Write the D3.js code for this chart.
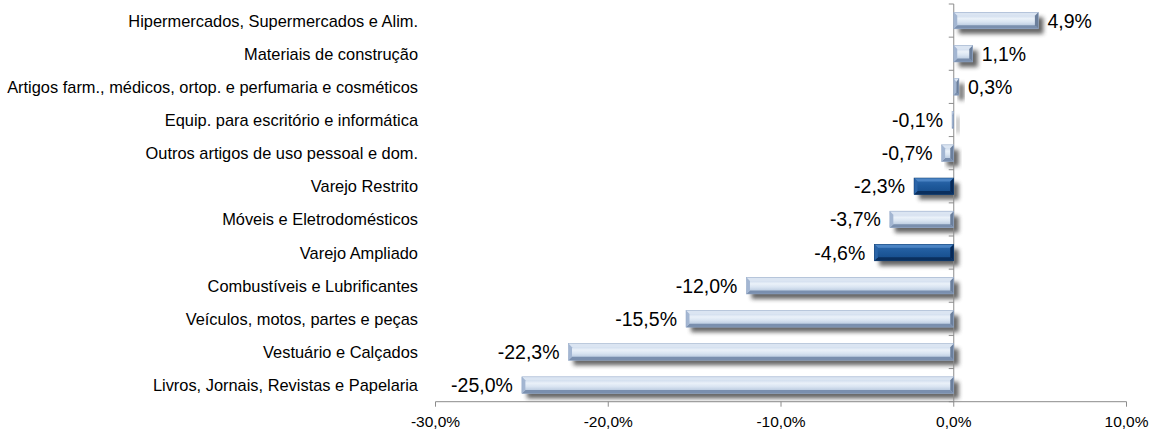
<!DOCTYPE html>
<html><head><meta charset="utf-8">
<script src="https://cdn.jsdelivr.net/npm/d3@7"></script>
<style>body{margin:0;background:#fff}svg{display:block}text{font-family:"Liberation Sans",Arial,sans-serif}</style>
</head><body><svg id="c" width="1149" height="430"></svg>
<script>
const categories = ["Hipermercados, Supermercados e Alim.","Materiais de construção","Artigos farm., médicos, ortop. e perfumaria e cosméticos","Equip. para escritório e informática","Outros artigos de uso pessoal e dom.","Varejo Restrito","Móveis e Eletrodomésticos","Varejo Ampliado","Combustíveis e Lubrificantes","Veículos, motos, partes e peças","Vestuário e Calçados","Livros, Jornais, Revistas e Papelaria"];
const values = [4.9, 1.1, 0.3, -0.1, -0.7, -2.3, -3.7, -4.6, -12.0, -15.5, -22.3, -25.0];
const highlighted = ["Varejo Restrito","Varejo Ampliado"];
const xTicks = [-30, -20, -10, 0, 10];

const svg = d3.select("#c");
const x = d3.scaleLinear().domain([-30, 10]).range([435.5, 1126.5]);
const y = d3.scaleBand().domain(categories).range([4, 401.7]).paddingInner(0.5).paddingOuter(0.25);
const fmt = v => d3.format(".1f")(v).replace(".", ",").replace("−","-") + "%";

const defs = svg.append("defs");
const f = defs.append("filter").attr("id","sh").attr("x","-20%").attr("y","-60%").attr("width","140%").attr("height","220%");
f.append("feGaussianBlur").attr("stdDeviation", 2);
function grad(id, stops){
  const g = defs.append("linearGradient").attr("id", id).attr("x1",0).attr("y1",0).attr("x2",0).attr("y2",1);
  stops.forEach(s => g.append("stop").attr("offset", s[0]).attr("stop-color", s[1]));
}
grad("lb", [[0,"#b5c7e1"],[0.38,"#eaf1f9"],[0.58,"#dae5f2"],[1,"#a3b7d2"]]);
grad("db", [[0,"#2f6aae"],[0.45,"#1f5a9c"],[1,"#144a88"]]);

const pal = {
  light: {face:"url(#lb)", top:"#dbe5f2", bottom:"#7a8fae", left:"#a3b6d2", right:"#6b7f9c", stroke:"#93a7c6"},
  dark:  {face:"url(#db)", top:"#4b84c4", bottom:"#0a2f5e", left:"#2a64a8", right:"#082a58", stroke:"#0d3a6e"}
};

const data = categories.map((c,i) => ({c, v: values[i], hi: highlighted.includes(c)}));
const x0 = x(0);

// shadows
svg.append("g").selectAll("rect").data(data).join("rect")
  .attr("x", d => Math.min(x0, x(d.v)) + 5)
  .attr("y", d => y(d.c) + 5)
  .attr("width", d => Math.abs(x(d.v) - x0))
  .attr("height", y.bandwidth())
  .attr("fill", "#5e5e5e").attr("opacity", 0.95).attr("filter","url(#sh)");

// axes
svg.append("line").attr("x1", x0).attr("x2", x0).attr("y1", 4).attr("y2", 401.7).attr("stroke","#8c8c8c");
const bounds = d3.range(categories.length + 1).map(i => 4 + i * y.step());
svg.append("g").selectAll("line").data(bounds).join("line")
  .attr("x1", x0 - 5).attr("x2", x0).attr("y1", d => d).attr("y2", d => d).attr("stroke","#8c8c8c");
svg.append("line").attr("x1", x(-30)).attr("x2", x(10)).attr("y1", 401.7).attr("y2", 401.7).attr("stroke","#8c8c8c");
svg.append("g").selectAll("line").data(xTicks).join("line")
  .attr("x1", d => x(d)).attr("x2", d => x(d)).attr("y1", 401.7).attr("y2", 406.7).attr("stroke","#8c8c8c");
svg.append("g").selectAll("text").data(xTicks).join("text")
  .attr("x", d => x(d)).attr("y", 421).attr("text-anchor","middle").attr("dominant-baseline","central")
  .attr("font-size", 15.5).attr("fill","#000").text(d => fmt(d));

// bars with bevels
const bars = svg.append("g").selectAll("g").data(data).join("g");
function geom(d){
  const xl = Math.min(x0, x(d.v)), xr = Math.max(x0, x(d.v));
  const y0 = y(d.c), y1 = y0 + y.bandwidth();
  const b = Math.min(3.5, (xr - xl) / 2);
  return {xl, xr, y0, y1, b, bv: 3.5};
}
const pts = a => a.map(p => p.join(",")).join(" ");
bars.append("rect")
  .attr("x", d => geom(d).xl).attr("y", d => y(d.c))
  .attr("width", d => Math.abs(x(d.v) - x0)).attr("height", y.bandwidth())
  .attr("fill", d => pal[d.hi ? "dark" : "light"].face);
bars.append("polygon").attr("points", d => { const g = geom(d);
  return pts([[g.xl,g.y0],[g.xr,g.y0],[g.xr-g.b,g.y0+g.bv],[g.xl+g.b,g.y0+g.bv]]); })
  .attr("fill", d => pal[d.hi ? "dark" : "light"].top);
bars.append("polygon").attr("points", d => { const g = geom(d);
  return pts([[g.xl,g.y1],[g.xr,g.y1],[g.xr-g.b,g.y1-g.bv],[g.xl+g.b,g.y1-g.bv]]); })
  .attr("fill", d => pal[d.hi ? "dark" : "light"].bottom);
bars.append("polygon").attr("points", d => { const g = geom(d);
  return pts([[g.xl,g.y0],[g.xl+g.b,g.y0+g.bv],[g.xl+g.b,g.y1-g.bv],[g.xl,g.y1]]); })
  .attr("fill", d => pal[d.hi ? "dark" : "light"].left);
bars.append("polygon").attr("points", d => { const g = geom(d);
  return pts([[g.xr,g.y0],[g.xr-g.b,g.y0+g.bv],[g.xr-g.b,g.y1-g.bv],[g.xr,g.y1]]); })
  .attr("fill", d => pal[d.hi ? "dark" : "light"].right);
bars.append("rect")
  .attr("x", d => geom(d).xl).attr("y", d => y(d.c))
  .attr("width", d => Math.abs(x(d.v) - x0)).attr("height", y.bandwidth())
  .attr("fill", "none").attr("stroke", d => pal[d.hi ? "dark" : "light"].stroke).attr("stroke-width", 0.5);

// value labels
svg.append("g").selectAll("text").data(data).join("text")
  .attr("x", d => d.v >= 0 ? x(d.v) + 9 : x(d.v) - 9)
  .attr("y", d => y(d.c) + y.bandwidth() / 2)
  .attr("text-anchor", d => d.v >= 0 ? "start" : "end")
  .attr("dominant-baseline","central").attr("font-size", 19.5).attr("fill","#000")
  .text(d => fmt(d.v));

// category labels
svg.append("g").selectAll("text").data(data).join("text")
  .attr("x", 418).attr("y", d => y(d.c) + y.bandwidth() / 2)
  .attr("text-anchor","end").attr("dominant-baseline","central")
  .attr("font-size", 16.4).attr("fill","#000").text(d => d.c);
</script></body></html>
